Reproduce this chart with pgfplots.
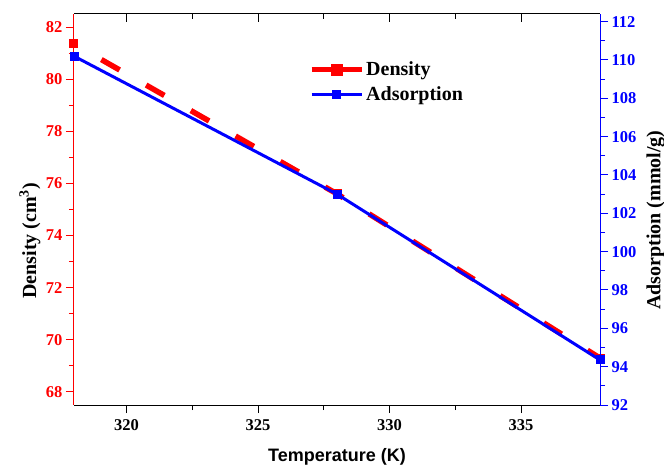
\documentclass[border=0pt]{standalone}
\usepackage{fontspec}
\setmainfont{Liberation Serif}
\newfontfamily\arialfont{Liberation Sans}
\usepackage{pgfplots}
\pgfplotsset{compat=1.18}
\definecolor{myred}{RGB}{255,0,0}
\definecolor{myblue}{RGB}{0,0,255}
\begin{document}
\begin{tikzpicture}
\pgfplotsset{
  every axis/.append style={
    scale only axis, width=526pt, height=391pt,
    at={(0pt,0pt)}, anchor=south west,
    xmin=318, xmax=338,
    tick label style={font=\fontsize{16.5}{18}\selectfont\bfseries},
    major tick length=8pt, minor tick length=5pt,
    xtick={320,325,330,335}, minor x tick num=1,
  }
}
\useasboundingbox (-74pt,-61pt) rectangle (590pt,405pt);
% bottom x axis (black)
\begin{axis}[
  axis x line*=bottom, axis y line=none,
  ymin=0, ymax=1,
  tick align=outside,
  xticklabels={\textbf{320},\textbf{325},\textbf{330},\textbf{335}},
  x axis line style={black, line width=1pt},
  tick style={black, line width=1pt},
  xticklabel style={yshift=-3pt},
  xlabel={\arialfont\bfseries Temperature (K)},
  xlabel style={font=\fontsize{18}{20}\selectfont, at={(axis description cs:0.5,-0.133)}, anchor=center},
]
\end{axis}
% top x axis (black, inward ticks)
\begin{axis}[
  axis x line*=top, axis y line=none,
  ymin=0, ymax=1,
  tick align=inside,
  xticklabels={},
  x axis line style={black, line width=1pt},
  tick style={black, line width=1pt},
]
\end{axis}
% left y axis: Density
\begin{axis}[
  axis y line*=left, axis x line=none,
  ymin=67.5, ymax=82.5,
  ytick={68,70,...,82}, minor y tick num=1,
  yticklabels={\textbf{68},\textbf{70},\textbf{72},\textbf{74},\textbf{76},\textbf{78},\textbf{80},\textbf{82}},
  tick align=outside,
  y axis line style={myred, line width=1pt},
  tick style={myred, line width=1pt},
  yticklabel style={myred},
  ylabel={Density (cm\textsuperscript{3})},
  ylabel style={font=\fontsize{20}{22}\selectfont\bfseries, black, at={(axis description cs:-0.084,0.42)}, anchor=center},
]
\addplot[myred, line width=5.5pt, dash pattern=on 21pt off 30.5pt, dash phase=20pt,
  mark=square*, mark size=4pt, mark options={solid, line width=1pt}]
  coordinates {(318,81.35) (328,75.6) (338,69.3)};
\end{axis}
% right y axis: Adsorption
\begin{axis}[
  axis y line*=right, axis x line=none,
  ymin=92, ymax=112.4,
  ytick={92,94,...,112}, minor y tick num=1,
  yticklabels={\textbf{92},\textbf{94},\textbf{96},\textbf{98},\textbf{100},\textbf{102},\textbf{104},\textbf{106},\textbf{108},\textbf{110},\textbf{112}},
  tick align=outside,
  y axis line style={myblue, line width=1pt},
  tick style={myblue, line width=1pt},
  yticklabel style={myblue},
  ylabel={Adsorption (mmol/g)},
  ylabel style={font=\fontsize{20}{22}\selectfont\bfseries, black, at={(axis description cs:1.106,0.473)}, anchor=center},
  legend style={draw=none, fill=none, at={(axis description cs:0.443,0.888)}, anchor=north west,
    font=\fontsize{20}{22}\selectfont\bfseries, row sep=5pt, inner sep=2pt},
  legend cell align=left,
  legend image code/.code={\draw[mark repeat=2, mark phase=2, #1] plot coordinates {(0pt,0pt) (25pt,0pt) (50pt,0pt)};},
]
\addlegendimage{myred, line width=5pt, solid, mark=square*, mark size=3.5pt}
\addlegendentry{Density}
\addplot[myblue, line width=3pt, mark=square*, mark size=4pt, mark options={solid, line width=1pt}]
  coordinates {(318,110.2) (328,103.0) (338,94.35)};
\addlegendentry{Adsorption}
\end{axis}
\end{tikzpicture}
\end{document}
